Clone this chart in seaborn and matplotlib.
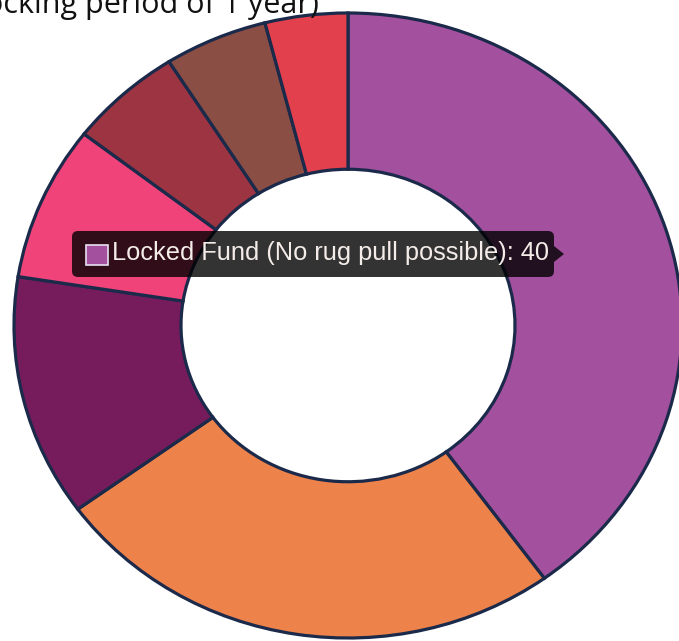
import matplotlib
matplotlib.use("Agg")
import matplotlib.pyplot as plt
import seaborn as sns
from matplotlib.patches import FancyBboxPatch, Polygon, Rectangle

# ---- data ----
labels = [
    "Locked Fund (No rug pull possible)",
    "Presale",
    "Liquidity",
    "Marketing",
    "Team",
    "Development",
    "Airdrop",
]
values = [40, 25, 12.5, 8, 5.5, 5, 4]
colors = ["#a3509e", "#ee824b", "#761c5c", "#ef4379", "#9d3442", "#8a4e44", "#e3404e"]
title_text = "Locking period of 1 year)"

sns.set_theme(style="white")
plt.rcParams["font.family"] = ["Open Sans", "DejaVu Sans"]

W, H = 679, 641
fig = plt.figure(figsize=(W / 100, H / 100), dpi=100)
fig.patch.set_facecolor("white")
ax = fig.add_axes([0, 0, 1, 1])

# donut (image is slightly stretched horizontally)
cx, cy = 348, 325.5
rx, ry = 334, 312.5
ax.pie(values, colors=colors, startangle=90, counterclock=False, radius=1.0,
       wedgeprops=dict(width=0.5, edgecolor="#1b2a4a", linewidth=2.3))
ax.set_aspect("auto")
ax.set_xlim(-cx / rx, (W - cx) / rx)
ax.set_ylim(-(H - cy) / ry, cy / ry)
ax.axis("off")


def fx(px):
    return px / W


def fy(py):
    return 1 - py / H


# title (cropped at the top-left in the reference)
fig.text(fx(319), fy(13), title_text, ha="right", va="baseline",
         fontsize=22, color="#111111", family=["Open Sans", "DejaVu Sans"])

# tooltip
x0, x1, y0, y1 = 72, 554, 231, 277
box = FancyBboxPatch((fx(x0), fy(y1)), fx(x1) - fx(x0), fy(y0) - fy(y1),
                     boxstyle="round,pad=0,rounding_size=0.009",
                     transform=fig.transFigure, facecolor="black", alpha=0.8,
                     edgecolor="none", zorder=5)
fig.add_artist(box)
arrow = Polygon([(fx(x1), fy(246)), (fx(x1 + 10), fy(254)), (fx(x1), fy(262))],
                closed=True, transform=fig.transFigure, facecolor="black",
                alpha=0.8, edgecolor="none", zorder=5)
fig.add_artist(arrow)
sq = Rectangle((fx(86), fy(265)), fx(108) - fx(86), fy(245) - fy(265),
               transform=fig.transFigure, facecolor=colors[0],
               edgecolor="#e8e0f0", linewidth=1.2, zorder=6)
fig.add_artist(sq)
fig.text(fx(112), fy(253), f"{labels[0]}: {values[0]}", ha="left", va="center",
         fontsize=18.3, color="#f4ece8", family=["Liberation Sans", "DejaVu Sans"],
         zorder=7)

fig.savefig("out.png", dpi=100)
